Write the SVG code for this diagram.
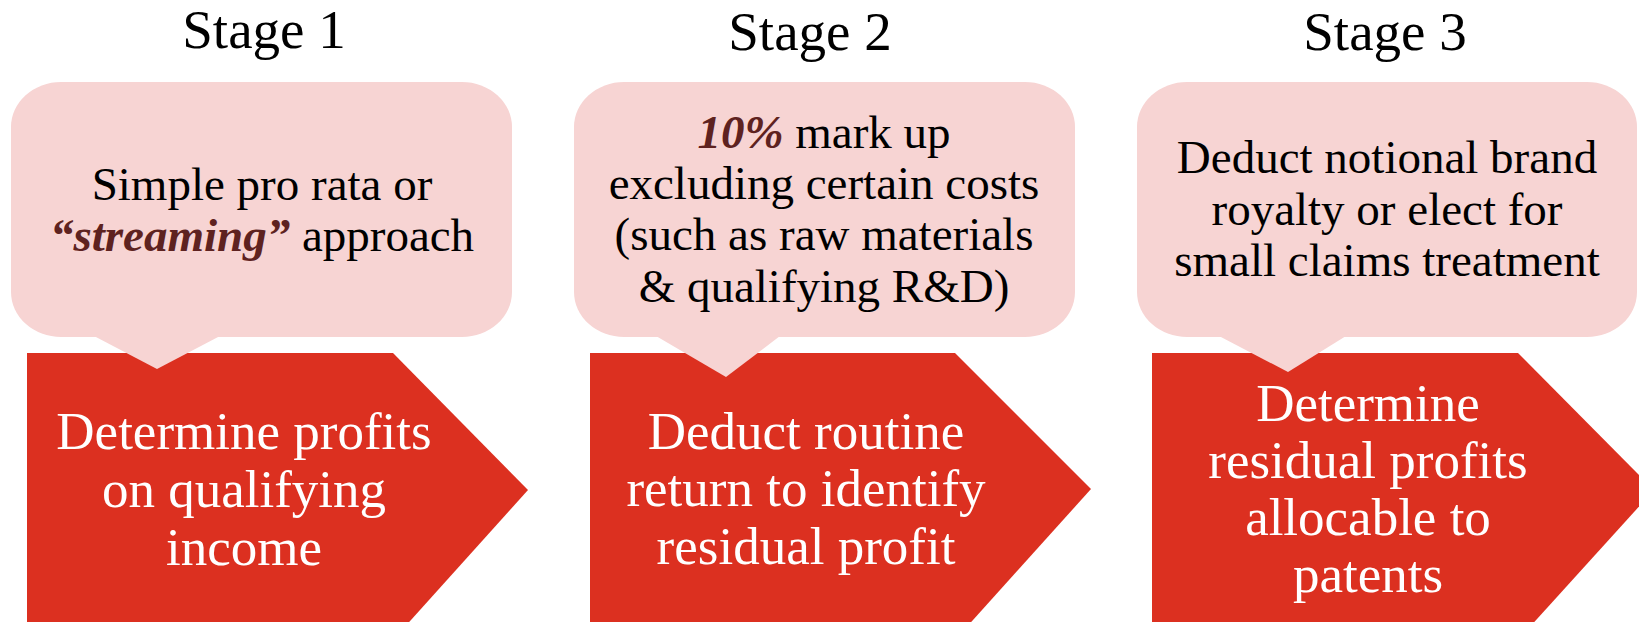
<svg xmlns="http://www.w3.org/2000/svg" width="1639" height="622" viewBox="0 0 1639 622">
  <style>
    .title { font-family: "Liberation Serif", "DejaVu Serif", serif; font-size: 55px; fill: #000; text-anchor: middle; }
    .note { font-family: "Liberation Serif", "DejaVu Serif", serif; font-size: 47px; fill: #000; text-anchor: middle; }
    .step { font-family: "Liberation Serif", "DejaVu Serif", serif; font-size: 53px; fill: #fff; text-anchor: middle; }
    .em { font-weight: bold; font-style: italic; fill: #5e2220; }
    .arrow { fill: #dc3020; }
    .bubble { fill: #f7d4d3; }
  </style>

  <!-- Stage 1 -->
  <g id="stage1">
    <text class="title" x="264" y="48">Stage 1</text>
    <polygon class="arrow" points="27,353 393,353 528,490 393,640 27,640"/>
    <rect class="bubble" x="11" y="82" width="501" height="255" rx="50" ry="45"/>
    <polygon class="bubble" points="94,336 220,336 157,369"/>
    <text class="note" x="262" y="200">Simple pro rata or</text>
    <text class="note" x="262" y="251"><tspan class="em">“streaming”</tspan> approach</text>
    <text class="step" x="244" y="449">Determine profits</text>
    <text class="step" x="244" y="507">on qualifying</text>
    <text class="step" x="244" y="565">income</text>
  </g>

  <!-- Stage 2 -->
  <g id="stage2">
    <text class="title" x="810" y="50">Stage 2</text>
    <polygon class="arrow" points="590,353 955,353 1091,489 955,640 590,640"/>
    <rect class="bubble" x="574" y="82" width="501" height="255" rx="50" ry="45"/>
    <polygon class="bubble" points="656,336 780,336 726,377"/>
    <text class="note" x="824" y="148"><tspan class="em">10%</tspan> mark up</text>
    <text class="note" x="824" y="199">excluding certain costs</text>
    <text class="note" x="824" y="250">(such as raw materials</text>
    <text class="note" x="824" y="302">&amp; qualifying R&amp;D)</text>
    <text class="step" x="806" y="449">Deduct routine</text>
    <text class="step" x="806" y="506">return to identify</text>
    <text class="step" x="806" y="564">residual profit</text>
  </g>

  <!-- Stage 3 -->
  <g id="stage3">
    <text class="title" x="1385" y="50">Stage 3</text>
    <polygon class="arrow" points="1152,353 1518,353 1654,490 1518,640 1152,640"/>
    <rect class="bubble" x="1137" y="82" width="500" height="255" rx="50" ry="45"/>
    <polygon class="bubble" points="1219,336 1346,336 1288,372"/>
    <text class="note" x="1387" y="173">Deduct notional brand</text>
    <text class="note" x="1387" y="225">royalty or elect for</text>
    <text class="note" x="1387" y="276">small claims treatment</text>
    <text class="step" x="1368" y="421">Determine</text>
    <text class="step" x="1368" y="478">residual profits</text>
    <text class="step" x="1368" y="535">allocable to</text>
    <text class="step" x="1368" y="592">patents</text>
  </g>

  <!-- no connectors: the chevrons themselves carry the flow -->
  <g id="connectors"/>
</svg>
